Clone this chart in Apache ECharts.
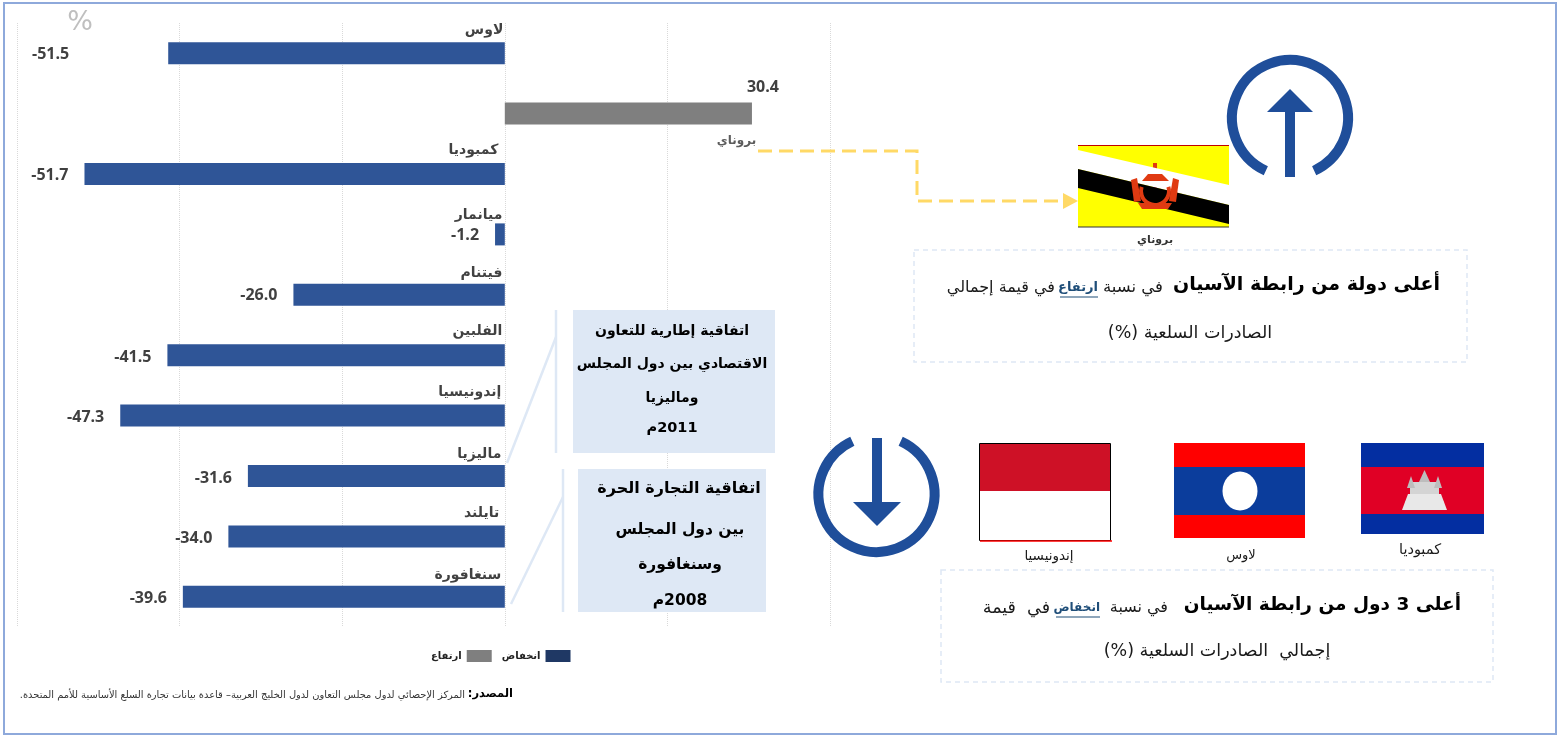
<!DOCTYPE html>
<html>
<head>
<meta charset="utf-8">
<title>ASEAN</title>
<script src="https://cdn.jsdelivr.net/npm/echarts@6/dist/echarts.min.js"></script>
<style>
  html, body { margin: 0; padding: 0; background: #fff; }
  #main { width: 1561px; height: 736px; }
</style>
</head>
<body>
<div id="main"></div>
<script>
// chart values
var categories = ['لاوس', 'بروناي', 'كمبوديا', 'ميانمار', 'فيتنام', 'الفلبين', 'إندونيسيا', 'ماليزيا', 'تايلند', 'سنغافورة'];
// laos bar is drawn shorter than its printed label in the reference, so bar length and label are kept apart
var lossValues = [-41.4, null, -51.7, -1.2, -26.0, -41.5, -47.3, -31.6, -34.0, -39.6];
var lossLabels = ['-51.5', '', '-51.7', '-1.2', '-26.0', '-41.5', '-47.3', '-31.6', '-34.0', '-39.6'];
var riseValues = [null, 30.4, null, null, null, null, null, null, null, null];
var riseLabels = ['', '30.4', '', '', '', '', '', '', '', ''];
var legendNames = ['ارتفاع', 'انخفاض'];
var axisMin = -60, axisMax = 40, axisStep = 20;

// label nudges, one per category
var catOffsets = [[-1, -23], [252, 27], [-6, -24], [-2, -19], [-2, -21], [-2, -24], [-3, -23], [-3, -22], [-5, -23], [-3, -21]];

var AR = '"DejaVu Sans"';
var BLUE = '#1F4E9A';
var PALE = '#DEE8F5';
var RLM = '\u200f';

function text(str, x, y, size, opts) {
  opts = opts || {};
  return {
    type: 'text', z: 20, silent: true,
    style: {
      text: str, x: x, y: y,
      font: (opts.bold ? 'bold ' : '') + size + 'px ' + AR,
      fill: opts.color || '#1a1a1a',
      textAlign: opts.align || 'center',
      textVerticalAlign: 'middle'
    }
  };
}
function rect(x, y, w, h, fill, stroke, dash, lw) {
  return {
    type: 'rect', z: 5, silent: true,
    shape: { x: x, y: y, width: w, height: h },
    style: { fill: fill || 'none', stroke: stroke || null, lineWidth: lw || 1, lineDash: dash || null }
  };
}
function line(x1, y1, x2, y2, color, w) {
  return {
    type: 'line', z: 6, silent: true,
    shape: { x1: x1, y1: y1, x2: x2, y2: y2 },
    style: { stroke: color, lineWidth: w }
  };
}
function poly(points, fill) {
  return { type: 'polygon', z: 8, silent: true, shape: { points: points }, style: { fill: fill } };
}

var graphics = [
  // outer frame
  rect(4, 3, 1552, 731, null, '#8EA9DB', null, 2),
  text('%', 80, 23, 27, { color: '#BFBFBF' }),

  // callouts
  rect(573, 310, 202, 143, PALE),
  rect(578, 469, 188, 143, PALE),
  line(556, 310, 556, 453, PALE, 2.5),
  line(556, 337, 507, 463, PALE, 2.5),
  line(563, 469, 563, 612, PALE, 2.5),
  line(563, 497, 511, 604, PALE, 2.5),
  text('اتفاقية إطارية للتعاون', 672, 331, 14, { bold: true, color: '#000' }),
  text('الاقتصادي بين دول المجلس', 672, 364, 14, { bold: true, color: '#000' }),
  text('وماليزيا', 672, 398, 14, { bold: true, color: '#000' }),
  text(RLM + '2011م', 672, 428, 14.5, { bold: true, color: '#000' }),
  text('اتفاقية التجارة الحرة', 679, 489, 16, { bold: true, color: '#000' }),
  text('بين دول المجلس', 680, 530, 15.5, { bold: true, color: '#000' }),
  text('وسنغافورة', 680, 565, 15.5, { bold: true, color: '#000' }),
  text(RLM + '2008م', 680, 601, 15.5, { bold: true, color: '#000' }),

  // connector from brunei to its flag
  {
    type: 'polyline', z: 6, silent: true,
    shape: { points: [[758, 151], [917, 151], [917, 201], [1066, 201]] },
    style: { stroke: '#FFD966', lineWidth: 3, lineDash: [14, 7], fill: 'none' }
  },
  poly([[1063, 193], [1078, 201], [1063, 209]], '#FFD966'),

  // brunei flag
  rect(1078, 145, 151, 82, '#FFFF00'),
  poly([[1078, 150], [1229, 185], [1229, 205], [1078, 169]], '#FFFFFF'),
  poly([[1078, 169], [1229, 205], [1229, 224], [1078, 188]], '#000000'),
  line(1078, 145.5, 1229, 145.5, '#C00000', 1),
  line(1078, 227, 1229, 227, '#333333', 1),
  {
    type: 'arc', z: 9, silent: true,
    shape: { cx: 1155, cy: 191, r: 14, startAngle: -0.3, endAngle: Math.PI + 0.3 },
    style: { stroke: '#E03A12', lineWidth: 4, fill: 'none' }
  },
  poly([[1142, 181], [1148, 174], [1162, 174], [1169, 181]], '#E03A12'),
  rect(1153, 163, 4, 40, '#E03A12'),
  poly([[1131, 180], [1137, 178], [1141, 201], [1134, 202]], '#E03A12'),
  poly([[1179, 180], [1173, 178], [1169, 201], [1176, 202]], '#E03A12'),
  poly([[1138, 203], [1172, 203], [1168, 209], [1142, 209]], '#E03A12'),
  text('بروناي', 1155, 240, 11, { bold: true, color: '#333333' }),

  // up icon
  {
    type: 'arc', z: 8, silent: true,
    shape: { cx: 1290, cy: 118, r: 58, startAngle: Math.PI / 2 + 0.43, endAngle: Math.PI / 2 - 0.43 + Math.PI * 2 },
    style: { stroke: BLUE, lineWidth: 10, fill: 'none' }
  },
  rect(1285, 112, 10, 65, BLUE),
  poly([[1267, 112], [1290, 89], [1313, 112]], BLUE),

  // first note
  rect(914, 250, 553, 112, null, PALE, [5, 4], 1.5),
  text('أعلى دولة من رابطة الآسيان', 1440, 285, 19, { bold: true, align: 'right', color: '#000000' }),
  text('في نسبة', 1163, 288, 16.5, { align: 'right' }),
  text('ارتفاع', 1098, 288, 13, { bold: true, align: 'right', color: '#1F4E79' }),
  line(1060, 297, 1098, 297, '#1F4E79', 1.2),
  text('في قيمة إجمالي', 1055, 288, 16, { align: 'right' }),
  text(RLM + 'الصادرات السلعية (%)' + RLM, 1190, 333, 17.5),

  // down icon
  {
    type: 'arc', z: 8, silent: true,
    shape: { cx: 876.5, cy: 494, r: 58, startAngle: -Math.PI / 2 + 0.43, endAngle: -Math.PI / 2 - 0.43 + Math.PI * 2 },
    style: { stroke: BLUE, lineWidth: 10, fill: 'none' }
  },
  rect(872, 438, 10, 66, BLUE),
  poly([[853, 502], [901, 502], [877, 526]], BLUE),

  // indonesia flag
  rect(980, 444, 131, 47, '#CE1126'),
  line(980, 541, 1112, 541, '#FF0000', 1.5),
  rect(979.5, 443.5, 131, 97, null, '#000000', null, 1),
  text('إندونيسيا', 1049, 556, 13.5),

  // laos flag
  rect(1174, 443, 131, 95, '#FF0000'),
  rect(1174, 467, 131, 48, '#0B3D9C'),
  { type: 'ellipse', z: 9, silent: true, shape: { cx: 1240, cy: 491, rx: 17.5, ry: 19.5 }, style: { fill: '#FFFFFF' } },
  text('لاوس', 1241, 556, 13),

  // cambodia flag
  rect(1361, 443, 123, 91, '#032EA1'),
  rect(1361, 467, 123, 47, '#E00025'),
  poly([[1402, 510], [1408, 494], [1441, 494], [1447, 510]], '#E8E8E8'),
  line(1405, 502, 1444, 502, '#AFAFAF', 1),
  poly([[1410, 494], [1410, 482], [1439, 482], [1439, 494]], '#D4D4D4'),
  poly([[1419, 482], [1424.5, 470], [1430, 482]], '#BDBDBD'),
  poly([[1407, 488], [1411, 476], [1415, 488]], '#BDBDBD'),
  poly([[1434, 488], [1438, 476], [1442, 488]], '#BDBDBD'),
  text('كمبوديا', 1420, 550, 14.5),

  // second note
  rect(941, 570, 552, 112, null, PALE, [5, 4], 1.5),
  text('أعلى 3 دول من رابطة الآسيان', 1461, 605, 18.5, { bold: true, align: 'right', color: '#000000' }),
  text('في نسبة', 1168, 608, 16, { align: 'right' }),
  text('انخفاض', 1100, 608, 12, { bold: true, align: 'right', color: '#1F4E79' }),
  line(1056, 617, 1100, 617, '#1F4E79', 1.2),
  text('في  قيمة', 1050, 608, 17.5, { align: 'right' }),
  text(RLM + 'إجمالي  الصادرات السلعية (%)' + RLM, 1217, 651, 17.5),

  // source
  text('المصدر:' + RLM, 513, 694, 11.5, { bold: true, align: 'right', color: '#000000' }),
  text('المركز الإحصائي لدول مجلس التعاون لدول الخليج العربية– قاعدة بيانات تجارة السلع الأساسية للأمم المتحدة.' + RLM, 465, 695, 9.9, { align: 'right', color: '#333333' })
];

var valueLabel = { show: true, color: '#404040', fontFamily: '"Open Sans"', fontWeight: 'bold', fontSize: 16 };

var chart = echarts.init(document.getElementById('main'), null, { renderer: 'canvas' });
chart.setOption({
  animation: false,
  grid: { left: 17, right: 731, top: 23, bottom: 109 },
  legend: {
    left: 431, top: 650, padding: 0, align: 'right', itemGap: 10,
    itemWidth: 25, itemHeight: 12, selectedMode: false, icon: 'rect',
    data: [
      { name: legendNames[0], itemStyle: { color: '#7F7F7F' } },
      { name: legendNames[1], itemStyle: { color: '#1F3864' } }
    ],
    textStyle: { fontFamily: AR, fontSize: 10, fontWeight: 'bold', color: '#222' }
  },
  xAxis: {
    type: 'value', min: axisMin, max: axisMax, interval: axisStep,
    axisLabel: { show: false }, axisLine: { show: false }, axisTick: { show: false },
    splitLine: { show: true, lineStyle: { color: '#D9D9D9', type: 'dotted', width: 1 } }
  },
  yAxis: {
    type: 'category', data: categories, inverse: true,
    axisLabel: { show: false }, axisLine: { show: false }, axisTick: { show: false }
  },
  series: [
    {
      name: legendNames[1], type: 'bar', barWidth: 22, barGap: '-100%',
      itemStyle: { color: '#2F5597' },
      data: lossValues.map(function (v, i) {
        return {
          value: v,
          label: Object.assign({}, valueLabel, {
            position: 'left', distance: 16,
            formatter: lossLabels[i],
            offset: [i === 0 ? -83 : 0, i >= 5 ? 2 : 1]
          })
        };
      })
    },
    {
      name: legendNames[0], type: 'bar', barWidth: 22,
      itemStyle: { color: '#7F7F7F' },
      data: riseValues.map(function (v, i) {
        return {
          value: v,
          label: Object.assign({}, valueLabel, {
            position: 'right', distance: 0,
            formatter: riseLabels[i],
            offset: [-5, -26]
          })
        };
      })
    },
    {
      // country names sit above each bar, so they hang off a hidden point at zero
      type: 'scatter', symbolSize: 1, silent: true,
      itemStyle: { color: 'transparent' },
      z: 10,
      data: categories.map(function (c, i) {
        return {
          value: [0, c],
          label: {
            show: true, position: 'left', distance: 0,
            formatter: c, offset: catOffsets[i],
            fontFamily: AR, fontWeight: 'bold',
            fontSize: i === 1 ? 12 : 14,
            color: i === 1 ? '#333333' : '#111111'
          }
        };
      })
    }
  ],
  graphic: { elements: graphics }
});
</script>
</body>
</html>
